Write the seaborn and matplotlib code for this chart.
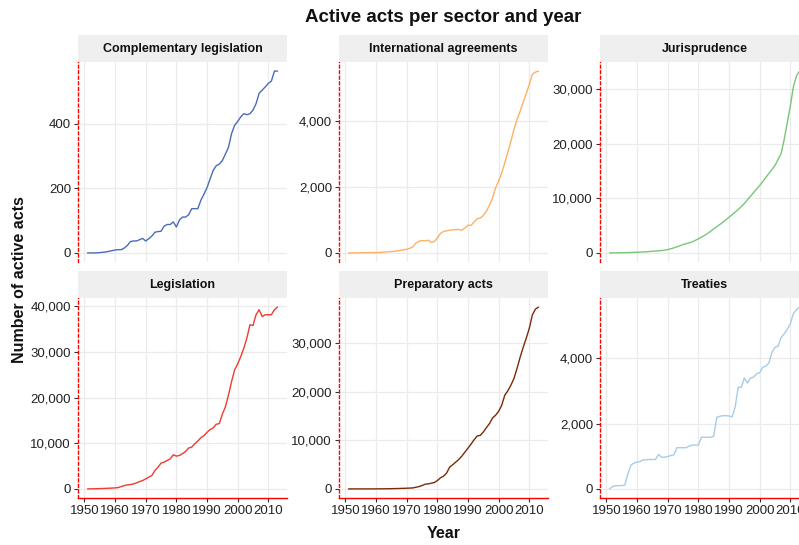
import numpy as np
import pandas as pd
import matplotlib
matplotlib.use("Agg")
import matplotlib.pyplot as plt
import seaborn as sns
from matplotlib.ticker import FuncFormatter, MultipleLocator

# DATA (yearly values 1951-2013)
years = list(range(1951, 2014))

complementary = [0, 0, 0, 0, 1, 2, 3, 5, 7, 9, 10, 10, 15, 23, 35, 37, 37, 41, 45, 37,
                 44, 52, 64, 66, 67, 83, 88, 88, 96, 80, 102, 111, 111, 118, 137, 137,
                 137, 163, 182, 202, 229, 255, 270, 275, 286, 306, 327, 369, 395, 407,
                 421, 431, 428, 431, 442, 462, 494, 504, 514, 525, 532, 563, 563]

international = [0, 0, 2, 3, 4, 6, 8, 9, 10, 10, 15, 20, 28, 35, 40, 50, 65, 80, 95, 110,
                 140, 180, 300, 355, 375, 365, 385, 325, 345, 455, 590, 650, 670, 690,
                 700, 710, 710, 690, 760, 840, 840, 940, 1040, 1060, 1135, 1265, 1450,
                 1670, 1975, 2180, 2430, 2735, 3060, 3390, 3750, 4050, 4300, 4575, 4840,
                 5115, 5420, 5490, 5520]

jurisprudence = [0, 5, 10, 20, 30, 45, 60, 80, 100, 120, 150, 180, 210, 250, 300, 340, 380,
                 430, 510, 610, 760, 920, 1120, 1320, 1530, 1690, 1850, 2020, 2300, 2570,
                 2890, 3220, 3550, 3980, 4410, 4810, 5220, 5630, 6090, 6550, 7020, 7490,
                 7960, 8510, 9060, 9730, 10400, 11070, 11750, 12360, 13100, 13840, 14570,
                 15300, 16040, 17140, 18240, 20800, 23880, 26940, 30500, 32450, 33370]

legislation = [0, 20, 35, 50, 70, 95, 120, 150, 185, 220, 290, 510, 730, 880, 950, 1100,
               1320, 1610, 1830, 2200, 2570, 2940, 4040, 4770, 5650, 5870, 6240, 6600,
               7490, 7190, 7340, 7710, 8220, 8950, 9170, 9910, 10500, 11230, 11670, 12400,
               12990, 13360, 14170, 14310, 16370, 17980, 20550, 23490, 26060, 27380, 28990,
               30830, 33030, 35960, 35820, 38170, 39270, 37800, 38170, 38170, 38170, 39270,
               39850]

preparatory = [0, 0, 0, 0, 0, 0, 0, 5, 5, 10, 15, 20, 25, 35, 50, 65, 80, 100, 120, 140,
               170, 200, 340, 480, 690, 970, 1030, 1170, 1310, 1720, 2280, 2620, 3240, 4480,
               4970, 5520, 6070, 6760, 7590, 8410, 9240, 10140, 10900, 11030, 11720, 12620,
               13450, 14620, 15170, 16000, 17240, 19310, 20210, 21380, 22760, 24830, 27100,
               29170, 31030, 33100, 35860, 37030, 37450]

treaties = [0, 70, 100, 100, 100, 120, 460, 730, 790, 820, 840, 890, 890, 900, 900, 900,
            1050, 970, 970, 990, 1020, 1040, 1260, 1260, 1260, 1260, 1310, 1340, 1340, 1340,
            1580, 1580, 1580, 1580, 1610, 2190, 2220, 2240, 2240, 2230, 2200, 2500, 3110,
            3110, 3390, 3240, 3390, 3420, 3520, 3550, 3720, 3750, 3850, 4180, 4330, 4360,
            4630, 4740, 4880, 5050, 5360, 5480, 5560]

sectors = ["Complementary legislation", "International agreements", "Jurisprudence",
           "Legislation", "Preparatory acts", "Treaties"]
values = [complementary, international, jurisprudence, legislation, preparatory, treaties]
colors = ["#4a6cb8", "#fdb163", "#78c679", "#f03b2c", "#7a2a08", "#a6cde6"]
y_steps = [200, 2000, 10000, 10000, 10000, 2000]

df = pd.DataFrame({
    "year": years * len(sectors),
    "sector": np.repeat(sectors, len(years)),
    "acts": np.concatenate(values),
})

sns.set_theme(style="whitegrid")
plt.rcParams["font.family"] = ["Liberation Sans", "DejaVu Sans"]

W, H = 799, 545
fig = plt.figure(figsize=(W / 100, H / 100), dpi=100)

col_left = [78, 339, 600]
panel_w = 209
row_top = [62, 298]
panel_h = 200
strip_h = 27

for i, sector in enumerate(sectors):
    r, c = divmod(i, 3)
    left = col_left[c] / W
    bottom = 1 - (row_top[r] + panel_h) / H
    ax = fig.add_axes([left, bottom, panel_w / W, panel_h / H])
    sub = df[df["sector"] == sector]
    sns.lineplot(data=sub, x="year", y="acts", ax=ax, color=colors[i], linewidth=1.0)

    ax.set_facecolor("white")
    ax.set_xlabel("")
    ax.set_ylabel("")
    ax.xaxis.set_major_locator(MultipleLocator(10))
    ax.yaxis.set_major_locator(MultipleLocator(y_steps[i]))
    ax.yaxis.set_major_formatter(FuncFormatter(lambda v, p: f"{v:,.0f}"))
    ax.set_xlim(1947.9, 2016.1)
    ax.grid(True, color="#ebebeb", linewidth=0.9)
    ax.set_axisbelow(True)

    for s in ["top", "right"]:
        ax.spines[s].set_visible(False)
    ax.spines["left"].set_color("red")
    ax.spines["left"].set_linestyle((0, (2, 2)))
    ax.spines["left"].set_linewidth(1.0)
    if r == 1:
        ax.spines["bottom"].set_color("red")
        ax.spines["bottom"].set_linewidth(1.0)
        ax.tick_params(axis="x", length=3, width=0.8, color="#333333",
                       labelsize=9.5, labelcolor="#222222", pad=2, bottom=True)
    else:
        ax.spines["bottom"].set_visible(False)
        ax.tick_params(axis="x", length=0, labelbottom=False)
    ax.tick_params(axis="y", length=3, width=0.8, color="#333333", left=True,
                   labelsize=9.5, labelcolor="#222222", pad=2)

    # facet strip
    sax = fig.add_axes([left, 1 - row_top[r] / H, panel_w / W, strip_h / H])
    sax.set_facecolor("#efefef")
    sax.set_xticks([])
    sax.set_yticks([])
    for s in sax.spines.values():
        s.set_visible(False)
    sax.text(0.5, 0.48, sector, ha="center", va="center", fontsize=9,
             fontweight="bold", color="#111111", transform=sax.transAxes)

center_x = (78 + 809) / 2 / W
fig.text(center_x, 1 - 17 / H, "Active acts per sector and year", ha="center",
         va="center", fontsize=13.5, fontweight="bold", color="#111111")
fig.text(center_x, 1 - 533 / H, "Year", ha="center", va="center",
         fontsize=11.5, fontweight="bold", color="#111111")
fig.text(20 / W, 1 - 280 / H, "Number of active acts", ha="center", va="center",
         rotation=90, fontsize=11.5, fontweight="bold", color="#111111")

fig.savefig("out.png", dpi=100, facecolor="white")
